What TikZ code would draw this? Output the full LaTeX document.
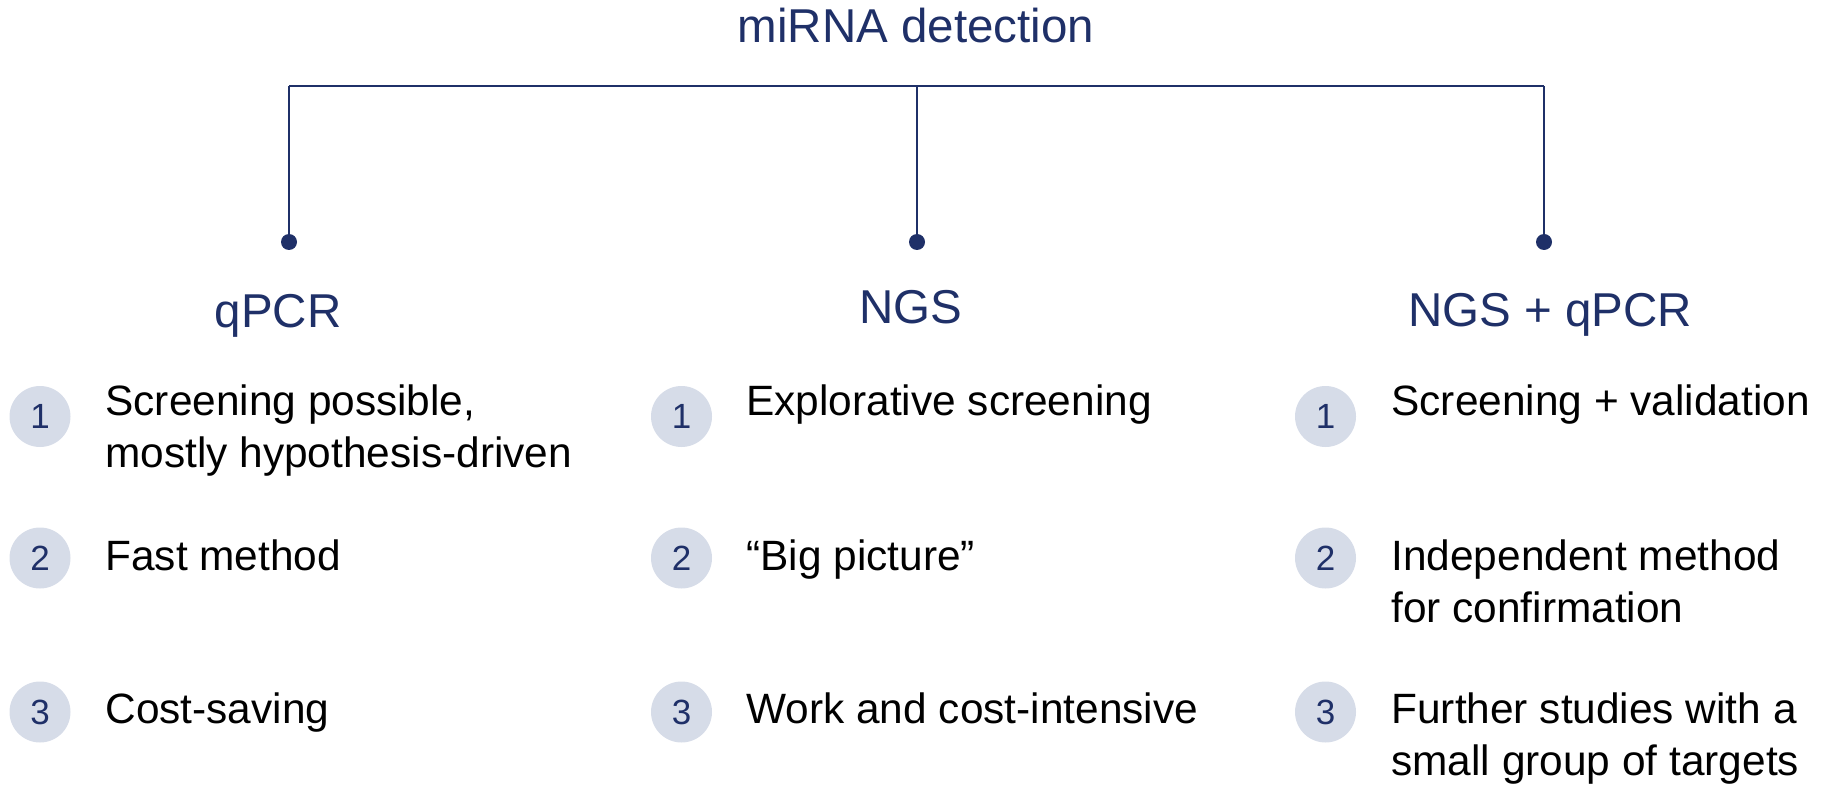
\documentclass[tikz,border=0pt]{standalone}
\usepackage{fontspec}
\setmainfont{Liberation Sans}
\definecolor{navy}{HTML}{1F3068}
\definecolor{badge}{HTML}{D6DCE8}
\tikzset{
  head/.style={inner sep=0pt, anchor=base, text=navy, font=\fontsize{23.75}{28}\selectfont},
  item/.style={inner sep=0pt, anchor=base west, text=black, font=\fontsize{21.2}{26}\selectfont},
  num/.style={circle, fill=badge, minimum size=30.5pt, inner sep=0pt, text=navy, font=\fontsize{17.5}{19}\selectfont},
  dot/.style={circle, fill=navy, minimum size=8pt, inner sep=0pt},
  link/.style={draw=navy, line width=1.3pt},
}
\begin{document}
\begin{tikzpicture}[x=0.5pt, y=-0.5pt]
\useasboundingbox (0,0) rectangle (1825,786);
% title
\node[head] (title) at (916,43) {miRNA detection};
% tree
\coordinate (b1) at (289,86);
\coordinate (b2) at (917,86);
\coordinate (b3) at (1544,86);
\node[dot] (d1) at (289,242) {};
\node[dot] (d2) at (917,242) {};
\node[dot] (d3) at (1544,242) {};
\draw[link] (b1) -- (b3);
\draw[link] (b1) -- (d1.center);
\draw[link] (b2) -- (d2.center);
\draw[link] (b3) -- (d3.center);
% category heads
\node[head] (qpcr) at (278,328) {qPCR};
\node[head] (ngs) at (911,323) {NGS};
\node[head] (both) at (1550,326) {NGS + qPCR};
% column 1
\node[num] (c11) at (40,416.5) {\raisebox{-1pt}{1}};
\node[num] (c12) at (40,558) {\raisebox{-1pt}{2}};
\node[num] (c13) at (40,712) {\raisebox{-1pt}{3}};
\node[item] (t11a) at (105,415) {Screening possible,};
\node[item] (t11b) at (105,467) {mostly hypothesis-driven};
\node[item] (t12) at (105,570) {Fast method};
\node[item] (t13) at (105,723) {Cost-saving};
% column 2
\node[num] (c21) at (681.5,416.5) {\raisebox{-1pt}{1}};
\node[num] (c22) at (681.5,558) {\raisebox{-1pt}{2}};
\node[num] (c23) at (681.5,712) {\raisebox{-1pt}{3}};
\node[item] (t21) at (746,415) {Explorative screening};
\node[item] (t22) at (746,570) {“Big picture”};
\node[item] (t23) at (746,723) {Work and cost-intensive};
% column 3
\node[num] (c31) at (1325.5,416.5) {\raisebox{-1pt}{1}};
\node[num] (c32) at (1325.5,558) {\raisebox{-1pt}{2}};
\node[num] (c33) at (1325.5,712) {\raisebox{-1pt}{3}};
\node[item] (t31) at (1391,415) {Screening + validation};
\node[item] (t32a) at (1391,570) {Independent method};
\node[item] (t32b) at (1391,622) {for confirmation};
\node[item] (t33a) at (1391,723) {Further studies with a};
\node[item] (t33b) at (1391,775) {small group of targets};
\end{tikzpicture}
\end{document}
